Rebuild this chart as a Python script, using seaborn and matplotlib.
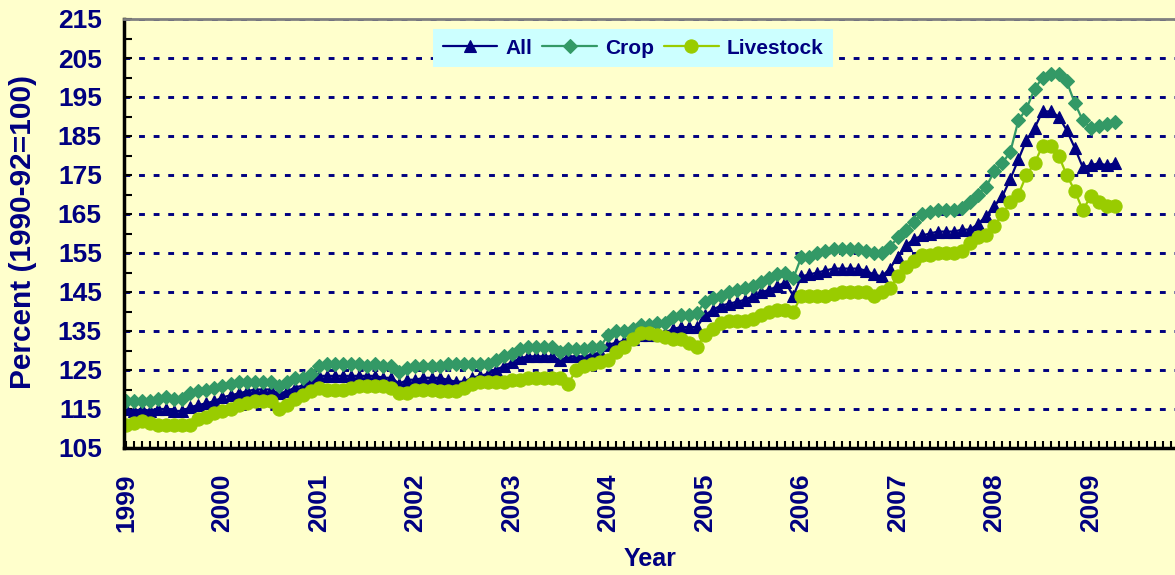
import seaborn as sns
import matplotlib.pyplot as plt
from matplotlib.ticker import MultipleLocator, FixedLocator

# Monthly index values, Jan 1999 - Apr 2009 (1990-92=100)
all_idx = [
    115, 114.5, 115, 114.5, 115, 115, 114.5, 114.5, 115.5, 116, 116.5, 117,      # 1999
    118, 118.5, 119, 119.5, 120, 120, 120, 119, 119.5, 120.5, 121, 122,          # 2000
    123.5, 123.5, 123.5, 123.5, 123.5, 123.5, 123.5, 123.5, 123, 123, 121.5, 122.5,  # 2001
    122.5, 123, 123, 123, 122.5, 122, 122, 123, 123.5, 124, 125, 126,            # 2002
    127, 128, 128.5, 128.5, 128.5, 128.5, 127.5, 128.5, 128.5, 128.5, 129, 129.5,  # 2003
    131.5, 132, 132.5, 133, 134, 134, 134, 134.5, 135.5, 136, 136, 136,          # 2004
    139, 140.5, 141.5, 142, 142.5, 143, 144, 145, 145.5, 146.5, 147.5, 144,      # 2005
    149, 149.5, 150, 150.5, 151, 151, 151, 151, 150.5, 149.5, 149, 151,          # 2006
    154, 157, 158.5, 159.5, 160, 160.5, 160.5, 160.5, 161, 161, 162.5, 164.5,    # 2007
    167, 169.5, 174, 179, 184, 187, 191.3, 191.3, 190, 186.5, 182, 177,          # 2008
    177.5, 178, 177.5, 178,                                                      # 2009
]
crop = [
    117, 117, 117, 117, 117.5, 118, 117.5, 117.5, 119, 119.5, 120, 120.5,
    121, 121.5, 122, 122, 122, 122, 122, 121, 122, 123, 123, 124,
    126, 126.5, 126.5, 126.5, 126.5, 126.5, 126, 126.5, 126, 126, 124.5, 125.5,
    126, 126, 126, 126, 126.5, 126.5, 126.5, 126.5, 126.5, 126.5, 127.5, 128.5,
    129, 130.5, 131, 131, 131, 131, 129.5, 130.5, 130.5, 130.5, 131, 131,
    134, 135, 135, 135.5, 136.5, 136.5, 137, 137, 138.5, 139, 139, 139.5,
    142.5, 143.5, 144, 145, 145.5, 146, 146.5, 147.5, 148.5, 149.5, 150, 148.5,
    154, 154, 155, 155.5, 156, 156, 156, 156, 155.5, 155, 155, 156.5,
    159, 161, 163, 165, 165.5, 166, 166, 166, 166.5, 168, 170, 172,
    176, 178, 181, 189, 192, 197, 200, 201, 201, 199, 193.5, 189,
    187, 187.5, 188, 188.5,
]
livestock = [
    111, 111.5, 112, 111.5, 111, 111, 111, 111, 111, 112.5, 113, 114,
    114.5, 115, 116, 116.5, 117, 117, 117, 115, 116, 117.5, 118.5, 119.5,
    120.5, 120, 120, 120, 120.5, 121, 121, 121, 121, 120.5, 119, 119,
    120, 120, 120, 119.5, 119.5, 119.5, 120.5, 121.5, 122, 122, 122, 122,
    122.5, 122.5, 123, 123, 123, 123, 123, 121.5, 125, 126, 126.5, 127,
    127.5, 129.5, 131, 133, 134.5, 134.5, 134, 133.5, 133, 133, 132, 131,
    134, 135.5, 137, 137.5, 137.5, 137.5, 138, 139, 140, 140.5, 140.5, 140,
    144, 144, 144, 144, 144.5, 145, 145, 145, 145, 144, 145, 146,
    149, 151.5, 153, 154.5, 154.5, 155, 155, 155, 155.5, 157.5, 159, 159.5,
    162, 165, 168, 170, 175, 178, 182.5, 182.5, 180, 175, 171, 166,
    169.5, 168, 167, 167,
]
year_labels = [str(y) for y in range(1999, 2010)]
months = list(range(len(all_idx)))

navy = '#000080'
bg = '#FFFFCC'

sns.set_style('ticks')
plt.rcParams['font.family'] = ['Liberation Sans', 'DejaVu Sans']
plt.rcParams['font.weight'] = 'bold'

fig = plt.figure(figsize=(11.75, 5.75), dpi=100, facecolor=bg)
ax = fig.add_axes([124 / 1175, 127 / 575, 1052 / 1175, 429 / 575])
ax.set_facecolor(bg)

# draw order: All, Crop, Livestock
sns.lineplot(x=months, y=all_idx, ax=ax, color=navy, marker='^', markersize=9,
             markeredgecolor=navy, markeredgewidth=0.8, linewidth=1.6, label='All')
sns.lineplot(x=months, y=crop, ax=ax, color='#339966', marker='D', markersize=7,
             markeredgecolor='#339966', markeredgewidth=0.8, linewidth=1.6, label='Crop')
sns.lineplot(x=months, y=livestock, ax=ax, color='#99CC00', marker='o', markersize=9.5,
             markeredgecolor='#99CC00', markeredgewidth=0.8, linewidth=1.6, label='Livestock')

ax.set_xlim(-0.25, 130.6)
ax.set_ylim(105, 215)
ax.yaxis.set_minor_locator(FixedLocator(list(range(110, 215, 10))))
ax.xaxis.set_minor_locator(MultipleLocator(1))
ax.set_yticks(list(range(105, 216, 10)))
ax.set_yticklabels([str(v) for v in range(105, 216, 10)], fontsize=19,
                   fontweight='bold', color=navy)
ax.set_xticks(list(range(0, 121, 12)))
ax.set_xticklabels(year_labels, rotation=90, fontsize=19, fontweight='bold',
                   color=navy, va='top', ha='center')

ax.tick_params(axis='y', which='both', direction='in', length=6, width=1.5,
               color='black', pad=16)
ax.tick_params(axis='x', which='both', direction='in', length=5, width=1.5,
               color='black', pad=18)

ax.set_axisbelow(True)
ax.yaxis.grid(True, which='major', color=navy, linestyle=(0, (2, 3)), linewidth=2.1)
ax.xaxis.grid(False)

for side in ['left', 'bottom']:
    ax.spines[side].set_color('black')
    ax.spines[side].set_linewidth(2.5)
ax.spines['top'].set_color('#808080')
ax.spines['top'].set_linewidth(2)
ax.spines['right'].set_visible(False)

ax.set_ylabel('Percent (1990-92=100)', fontsize=21.5, fontweight='bold', color=navy,
              va='center')
ax.yaxis.set_label_coords((23 - 124) / 1052, 0.503)
ax.set_xlabel('Year', fontsize=18, fontweight='bold', color=navy, va='center')
ax.xaxis.set_label_coords((650 - 124) / 1052, (448 - 559) / 429)

leg = ax.legend(loc='upper center', bbox_to_anchor=(0.484, 1.0), ncol=3,
                fontsize=15, frameon=True, fancybox=False, facecolor='#CCFFFF',
                edgecolor='none', framealpha=1, handlelength=2.6,
                handletextpad=0.4, columnspacing=0.5, borderpad=0.45)
for t in leg.get_texts():
    t.set_color(navy)
    t.set_fontweight('bold')

fig.savefig('out.png', dpi=100, facecolor=bg)
